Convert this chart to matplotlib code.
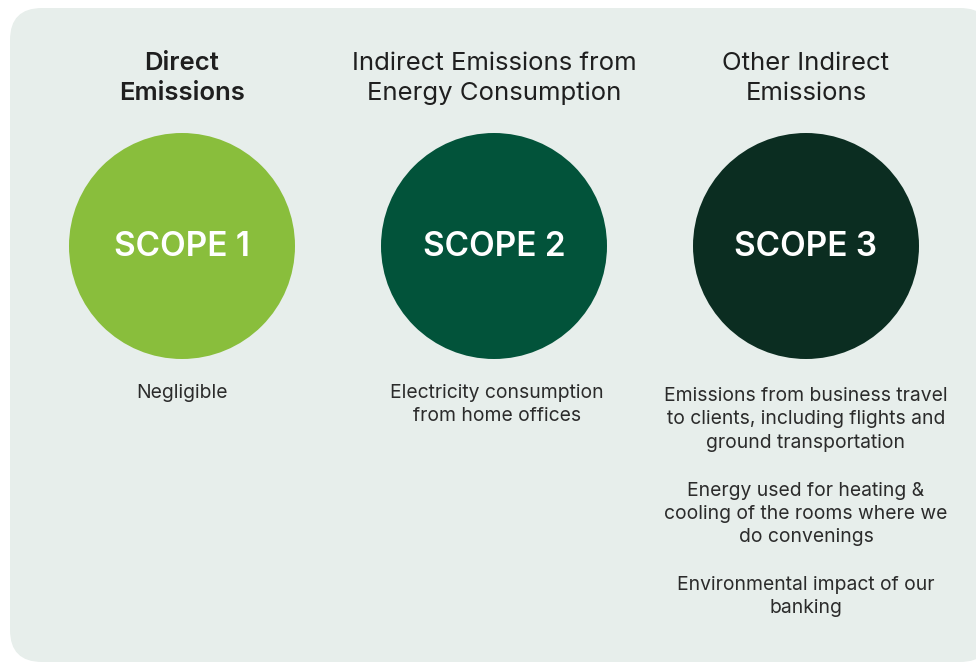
import matplotlib.pyplot as plt
from matplotlib.patches import Circle, FancyBboxPatch

scopes = ["SCOPE 1", "SCOPE 2", "SCOPE 3"]
titles = ["Direct\nEmissions",
          "Indirect Emissions from\nEnergy Consumption",
          "Other Indirect\nEmissions"]
title_weights = ["semibold", "normal", "normal"]
descriptions = [
    ["Negligible"],
    ["Electricity consumption\nfrom home offices"],
    ["Emissions from business travel\nto clients, including flights and\nground transportation",
     "Energy used for heating &\ncooling of the rooms where we\ndo convenings",
     "Environmental impact of our\nbanking"],
]
colors = ["#89be3c", "#02533a", "#0b2d21"]

plt.rcParams['font.family'] = ['Inter', 'DejaVu Sans']

fig = plt.figure(figsize=(9.76, 6.64), dpi=100)
ax = fig.add_axes([0, 0, 1, 1])
ax.set_xlim(0, 976)
ax.set_ylim(664, 0)
ax.axis("off")

# background panel
ax.add_patch(FancyBboxPatch((10, 8), 982, 654,
                            boxstyle="round,pad=0,rounding_size=32",
                            fc="#e7eeeb", ec="none"))

centers = [182, 494, 806]
cy = 246
for i, cx in enumerate(centers):
    ax.add_patch(Circle((cx, cy), 113, fc=colors[i], ec="none"))
    ax.text(cx, cy + 1, scopes[i], color="white", fontsize=24,
            fontweight="semibold", ha="center", va="center")
    ax.text(cx, 78.5, titles[i], color="#1f1f1f", fontsize=18.5,
            fontweight=title_weights[i], ha="center", va="center",
            linespacing=1.4)
    y = 384 + (3 if i == 2 else 0)
    for d in descriptions[i]:
        n = d.count("\n") + 1
        ax.text(cx + (3 if i == 1 else 0), y, d, color="#2b2b2b", fontsize=13.9,
                ha="center", va="top", linespacing=1.38)
        y += n * 23.5 + 24

fig.savefig("out.png", dpi=100)
